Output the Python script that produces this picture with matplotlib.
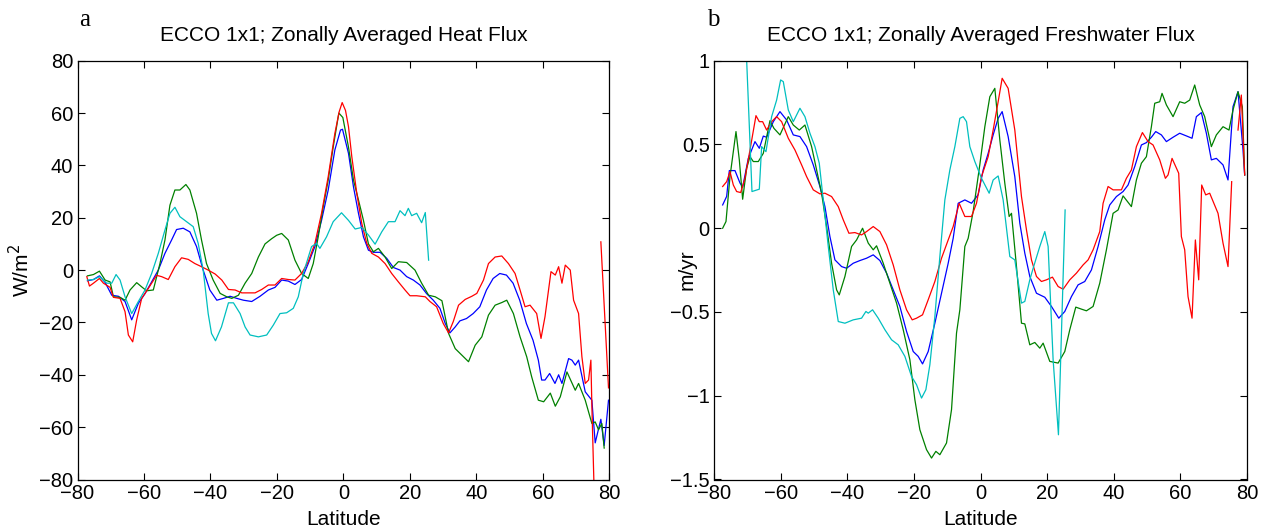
import numpy as np
import matplotlib
matplotlib.use("Agg")
import matplotlib.pyplot as plt
from matplotlib.ticker import FuncFormatter

plt.rcParams['font.family'] = ['Liberation Sans', 'DejaVu Sans']
plt.rcParams['font.size'] = 14.5

nan = np.nan

# ---------------- panel a: heat flux (W/m^2), pares (latitud, valor) ----------------
azul_a = [(-77, -4.1), (-75.2, -3.6), (-73.4, -2.2), (-71.7, -4.7), (-69.7, -9.6), (-67.7, -10),
          (-65.7, -12), (-63.7, -19), (-61.7, -12.7), (-59.7, -9), (-57.7, -4.5), (-55.7, 0),
          (-53.7, 6.4), (-51.7, 11.5), (-50.2, 15.5), (-48.2, 16), (-46.2, 14.6), (-44.2, 9),
          (-42.2, 0), (-40.2, -7.6), (-38.1, -11.5), (-36.1, -10.8), (-34.1, -10), (-32.1, -10.8),
          (-30.1, -11.5), (-27.6, -12), (-25.1, -10), (-22.6, -7.6), (-20.6, -6.6), (-18.6, -3.8),
          (-16.6, -4.2), (-14.6, -5.5), (-12.6, -3.6), (-10.6, 2.5), (-8.6, 9), (-6.6, 19),
          (-4.6, 30.6), (-2.6, 45.9), (-0.9, 53.5), (-0.3, 53.8), (1.5, 44.6), (3, 31.8),
          (4.5, 21.7), (6, 12.7), (7.5, 7.6), (9, 6.8), (11, 6.8), (13, 4.5), (15, 1), (17, 0),
          (19, -2.5), (21, -3.8), (23, -5.7), (25, -9), (27, -11.5), (29, -14.6), (30.6, -20.4),
          (32, -24), (33.6, -21.7), (35, -19.4), (37, -18.5), (39, -16.6), (41, -14), (43, -7.6),
          (45, -3.2), (47, -1.3), (49, -1.9), (51, -5), (53, -11.5), (55, -20.4), (57, -26.8),
          (58.6, -34.4), (59.6, -42), (60.6, -42), (62, -39.5), (63.6, -43.3), (64.7, -40),
          (65.7, -43.3), (67.7, -33.8), (68.7, -34.4), (69.7, -36.3), (70.7, -34.4), (72.7, -46.5),
          (74.7, -49.7), (75.7, -66), (77.4, -57), (78.4, -67), (79.7, -49.7)]

verde_a = [(-77, -2.2), (-75.2, -1.7), (-73.4, -0.4), (-71.7, -3.8), (-70.2, -4.5), (-69.2, -10.2),
           (-67.2, -10.4), (-65.7, -11.5), (-64.2, -7.6), (-62.2, -4.8), (-60.7, -6.4), (-59.2, -7.9),
           (-57.2, -7.6), (-55.2, 2.5), (-53.7, 11.5), (-52.2, 24.8), (-50.7, 30.6), (-49.2, 30.6),
           (-47.4, 32.7), (-46.2, 30.6), (-44.2, 21.7), (-42.7, 11.5), (-41.2, 2.5), (-39.2, -3.8),
           (-37.1, -8.9), (-35.1, -10.2), (-33.6, -10.8), (-31.6, -9.6), (-29.6, -5), (-27.6, -1.3),
           (-25.6, 5), (-23.6, 10), (-21.6, 12), (-20.1, 13.3), (-18.6, 14), (-16.6, 11.5),
           (-14.6, 3.8), (-12.6, -1.3), (-10.6, -3.2), (-9.1, 2.5), (-7.6, 12.7), (-6.1, 24.2),
           (-4.6, 34.4), (-3.1, 47), (-1.4, 60), (-0.2, 58.3), (1.5, 47), (3, 34.4), (4.5, 26.8),
           (6, 19), (7.5, 10), (9, 7), (10.5, 8.3), (12.5, 5), (14.5, 0.6), (16.5, 3.2), (19, 2.9),
           (21.5, 0), (23.5, -5), (25.6, -9.6), (27.6, -10.2), (29.6, -11.7), (31.6, -24.2),
           (33.6, -30), (35.6, -32.5), (37.6, -35), (39.6, -28.7), (41.6, -25.5), (43.6, -17.2),
           (45.6, -13.4), (47.6, -12.4), (49.1, -11.5), (51.1, -16.6), (53.1, -25.5), (55.1, -33.1),
           (56.6, -40.8), (58.6, -49.7), (60.2, -50.3), (62.2, -47), (63.7, -52), (65.2, -48.4),
           (67.2, -38.9), (69.7, -45.9), (70.7, -43.3), (72.7, -49.7), (74.7, -58.6), (75.7, -58),
           (76.7, -61), (77.7, -58.6), (78.4, -68)]

rojo_a = [(-77.2, -2.5), (-76.4, -6.1), (-75.2, -5), (-73.4, -3.2), (-72.2, -5), (-70.2, -6.6),
          (-69.2, -10.4), (-67.2, -10.8), (-65.7, -15.9), (-64.7, -24.8), (-63.4, -27.4), (-62.2, -19),
          (-60.7, -10.8), (-58.7, -7), (-56.2, -2), (-54.7, -2.5), (-52.7, -3.6), (-50.7, 1.3),
          (-48.7, 4.7), (-46.7, 4.1), (-44.7, 2.5), (-42.7, 1.3), (-40.7, 0), (-38.6, -1.5),
          (-36.6, -3.8), (-34.6, -7.4), (-32.6, -7.6), (-30.6, -8.7), (-28.6, -8.7), (-26.6, -8.7),
          (-24.6, -7.4), (-22.6, -5.7), (-20.6, -5.7), (-18.6, -3.2), (-16.6, -3.6), (-14.6, -3.8),
          (-12.6, -1.3), (-10.6, 3.2), (-8.6, 10.2), (-6.6, 21.7), (-4.6, 35.7), (-2.6, 52.2),
          (-1.3, 60.5), (-0.4, 64), (0.6, 61), (1.5, 54.8), (2.5, 43.3), (4, 29.3), (5.5, 17.8),
          (7, 10.2), (8.5, 6.4), (10.5, 5), (12.5, 2.5), (14.5, -1.3), (16.5, -4.5), (18.5, -7.6),
          (20, -9.8), (22, -9.8), (24.6, -10.2), (26, -12), (28, -14), (30, -20.4), (31.6, -24),
          (33, -19.7), (34.6, -13.4), (36.6, -11.2), (38.6, -10), (40.1, -8.9), (42.1, -3.8),
          (43.6, 2.5), (45.6, 5), (47.6, 5.4), (49.6, 2.5), (51.6, -1.3), (53.1, -7.6), (54.6, -14),
          (56.1, -13.4), (58.1, -16.6), (59.4, -26.1), (60.6, -17.8), (62.4, -0.6), (63.7, -1.9),
          (64.7, 1.3), (65.7, -5), (66.7, 1.9), (68.2, 0), (69.2, -11.5), (70.7, -16.6),
          (71.7, -33.1), (72.7, -43.3), (73.7, -42), (74.4, -34.4), (74.7, -52), (75.6, -95),
          (nan, nan), (77.4, 10.8), (79.7, -45)]

cian_a = [(-77, -3.8), (-75.2, -3.6), (-73.4, -2.5), (-71.2, -5), (-69.7, -5), (-68.4, -1.7),
          (-67.2, -3.8), (-65.7, -10.2), (-63.7, -16.6), (-61.7, -12), (-59.7, -7.6), (-57.7, -1.3),
          (-55.7, 6.4), (-53.7, 15.3), (-52.2, 21.7), (-50.7, 24), (-49.2, 20.4), (-47.2, 18.5),
          (-45.2, 16.6), (-43.7, 10.2), (-42.2, 0), (-40.7, -16.6), (-39.7, -24.2), (-38.5, -27),
          (-36.7, -21.7), (-34.6, -12.5), (-33.1, -12.5), (-31.1, -16.6), (-29.6, -21.7),
          (-28.1, -24.8), (-25.6, -25.5), (-23.1, -24.8), (-21.1, -21), (-19.1, -16.6),
          (-17.1, -16.3), (-15.1, -14.6), (-13.6, -10.2), (-12.1, -1.3), (-9.6, 9), (-8.1, 10.2),
          (-7.1, 8.3), (-5.1, 12.7), (-3.1, 18.5), (-0.6, 21.9), (1.5, 19), (3.5, 15.7), (5.5, 16.3),
          (7.5, 13.4), (9.5, 9.9), (11.5, 14.6), (13.5, 18.5), (15.5, 18.5), (17, 22.7), (18.5, 20.8),
          (19.5, 23.6), (20.5, 20.8), (22, 21.7), (23.5, 18.1), (24.6, 22), (25.6, 3.8)]

# ---------------- panel b: freshwater flux (m/yr) ----------------
azul_b = [(-77.4, 0.139), (-76.2, 0.19), (-75.4, 0.344), (-73.7, 0.344), (-72.2, 0.27), (-71.4, 0.245),
          (-69.7, 0.417), (-67.7, 0.517), (-66.4, 0.477), (-65.2, 0.55), (-64.2, 0.543), (-62.2, 0.636),
          (-60.2, 0.696), (-58.2, 0.646), (-56.2, 0.557), (-54.2, 0.547), (-52.2, 0.487), (-50.2, 0.378),
          (-48.2, 0.249), (-46.7, 0.129), (-45.2, -0.05), (-43.7, -0.189), (-41.7, -0.229),
          (-40.2, -0.239), (-38.2, -0.209), (-36.2, -0.193), (-34.2, -0.179), (-32.2, -0.159),
          (-30.2, -0.193), (-28.2, -0.268), (-26.2, -0.368), (-24.2, -0.467), (-22.2, -0.616),
          (-20.2, -0.736), (-18.7, -0.765), (-17.4, -0.81), (-15.7, -0.736), (-13.7, -0.567),
          (-11.7, -0.388), (-9.7, -0.209), (-8.2, -0.06), (-6.7, 0.149), (-4.7, 0.169), (-2.7, 0.149),
          (-0.7, 0.2), (0.8, 0.348), (2.3, 0.447), (3.8, 0.557), (5.3, 0.656), (6.5, 0.696),
          (8.3, 0.547), (10.3, 0.308), (11.8, 0.03), (13.3, -0.149), (14.8, -0.288), (16.8, -0.388),
          (19.3, -0.412), (21.3, -0.467), (23.5, -0.537), (25.3, -0.497), (27.3, -0.408),
          (29.3, -0.338), (31.3, -0.318), (33.3, -0.249), (35.3, -0.109), (37.3, 0.05), (38.8, 0.139),
          (40.8, 0.189), (42.8, 0.219), (44.3, 0.258), (46.3, 0.368), (48.3, 0.497), (49.8, 0.511),
          (51.3, 0.543), (52.6, 0.577), (54.3, 0.557), (55.8, 0.517), (57.8, 0.543), (59.8, 0.567),
          (61.8, 0.551), (63.5, 0.537), (64.8, 0.666), (66.3, 0.69), (67.8, 0.567), (69.3, 0.408),
          (70.8, 0.417), (72.8, 0.378), (74.3, 0.288), (75.8, 0.726), (77.3, 0.815), (78.8, 0.467),
          (79.3, 0.318)]

verde_b = [(-77.4, 0), (-76.4, 0.04), (-75.2, 0.308), (-73.4, 0.577), (-72.4, 0.408), (-71.4, 0.173),
           (-70.2, 0.358), (-69.2, 0.427), (-68.2, 0.398), (-66.7, 0.398), (-65.2, 0.447),
           (-63.2, 0.642), (-62, 0.596), (-60.2, 0.557), (-57.7, 0.666), (-56.2, 0.616), (-54.4, 0.586),
           (-52.7, 0.616), (-50.7, 0.487), (-49.2, 0.348), (-47.7, 0.209), (-46.2, 0.01),
           (-44.7, -0.209), (-43.2, -0.368), (-42.4, -0.398), (-40.7, -0.288), (-38.7, -0.109),
           (-37.2, -0.07), (-35.4, 0), (-33.7, -0.089), (-32.2, -0.129), (-31.2, -0.105),
           (-29.2, -0.209), (-27.2, -0.328), (-25.2, -0.447), (-23.2, -0.606), (-21.2, -0.785),
           (-19.7, -1.024), (-18.2, -1.203), (-16.2, -1.322), (-14.7, -1.372), (-13.4, -1.332),
           (-12.2, -1.352), (-10.2, -1.282), (-8.7, -1.083), (-7.2, -0.626), (-6.2, -0.487),
           (-4.7, -0.109), (-3.7, -0.06), (-2.2, 0.1), (-0.2, 0.38), (1.3, 0.606), (2.8, 0.785),
           (4.3, 0.835), (5.8, 0.527), (7.3, 0.268), (8.6, 0.07), (9.3, 0.089), (10.8, -0.229),
           (12.3, -0.567), (13.3, -0.571), (14.8, -0.696), (16.3, -0.682), (17.8, -0.716),
           (18.8, -0.686), (20.8, -0.795), (23.3, -0.805), (25.3, -0.736), (26.8, -0.606),
           (28.6, -0.471), (30.3, -0.483), (31.8, -0.493), (33.8, -0.467), (35.8, -0.328),
           (37.8, -0.129), (39.8, 0.089), (41.3, 0.109), (42.8, 0.193), (45.3, 0.129), (46.8, 0.288),
           (48.3, 0.388), (49.8, 0.427), (51.3, 0.606), (52.3, 0.746), (53.8, 0.755), (54.5, 0.805),
           (55.8, 0.736), (57.8, 0.666), (59.8, 0.755), (61.3, 0.746), (62.8, 0.765), (64.3, 0.855),
           (65.8, 0.736), (67.3, 0.666), (69.3, 0.487), (70.8, 0.557), (72.8, 0.606), (74.6, 0.586),
           (75.8, 0.706), (77.3, 0.815), (78.6, 0.726), (79.3, 0.318)]

rojo_b = [(-77.4, 0.249), (-76.2, 0.278), (-75.2, 0.338), (-74.2, 0.258), (-73.2, 0.219), (-72, 0.213),
          (-70.7, 0.298), (-69.2, 0.467), (-67.4, 0.672), (-66.4, 0.636), (-65.4, 0.636),
          (-64.2, 0.586), (-62.7, 0.636), (-61.2, 0.666), (-59.7, 0.636), (-57.7, 0.537),
          (-55.7, 0.467), (-53.7, 0.378), (-52.2, 0.308), (-50.2, 0.229), (-48.2, 0.205),
          (-46.7, 0.209), (-44.7, 0.189), (-42.7, 0.129), (-41.2, 0.05), (-39.5, -0.03),
          (-37.7, -0.026), (-35.7, -0.04), (-34.2, -0.02), (-32.2, 0.01), (-30.2, -0.02),
          (-28.2, -0.099), (-26.2, -0.219), (-24.2, -0.368), (-22.2, -0.487), (-20.5, -0.547),
          (-19.2, -0.537), (-17.4, -0.517), (-15.7, -0.427), (-13.7, -0.318), (-11.7, -0.179),
          (-9.7, -0.07), (-8.2, 0.01), (-6.4, 0.149), (-4.7, 0.07), (-2.7, 0.07), (-1.2, 0.149),
          (0.3, 0.308), (2.3, 0.427), (3.8, 0.586), (5.3, 0.755), (6.5, 0.895), (8.3, 0.835),
          (10.3, 0.586), (12.3, 0.189), (13.8, -0.01), (15.3, -0.189), (16.8, -0.288), (18.3, -0.318),
          (19.8, -0.308), (21.6, -0.292), (23.3, -0.348), (24.8, -0.364), (26.8, -0.308),
          (28.8, -0.268), (30.8, -0.219), (32.3, -0.189), (33.8, -0.129), (35.8, -0.02), (36.8, 0.149),
          (38.3, 0.249), (39.8, 0.229), (42.3, 0.229), (43.8, 0.298), (45.3, 0.348), (46.8, 0.487),
          (48.6, 0.571), (50.3, 0.517), (51.8, 0.497), (53.8, 0.408), (55.5, 0.298), (56.3, 0.318),
          (57.5, 0.417), (59.5, 0.328), (60.3, -0.05), (61.3, -0.129), (62.3, -0.408), (63.5, -0.537),
          (64.5, -0.07), (65.5, -0.308), (66.4, 0.258), (67.6, 0.199), (68.8, 0.209), (71.3, 0.089),
          (72.8, -0.089), (74.3, -0.229), (75.4, 0.278), (nan, nan), (77.3, 0.586), (78.3, 0.795),
          (79.3, 0.318)]

cian_b = [(-70.6, 1.2), (-68.6, 0.219), (-66.4, 0.233), (-65.7, 0.487), (-64.4, 0.457), (-62.7, 0.666),
          (-61.2, 0.765), (-60, 0.885), (-59.2, 0.875), (-57.7, 0.706), (-56.2, 0.636), (-54.2, 0.716),
          (-52.7, 0.666), (-51.2, 0.567), (-49.7, 0.487), (-48.4, 0.388), (-47.2, 0.169),
          (-45.7, -0.109), (-44.2, -0.368), (-42.7, -0.557), (-40.7, -0.567), (-38.2, -0.547),
          (-35.7, -0.537), (-34.4, -0.497), (-33.7, -0.507), (-32.4, -0.487), (-30.7, -0.537),
          (-28.7, -0.606), (-26.7, -0.666), (-24.7, -0.696), (-22.7, -0.765), (-20.7, -0.885),
          (-19.2, -0.934), (-17.7, -1.014), (-16.4, -0.964), (-15.2, -0.815), (-13.7, -0.527),
          (-12.2, -0.169), (-10.7, 0.169), (-9.2, 0.348), (-7.7, 0.487), (-6.2, 0.656), (-5.2, 0.666),
          (-4.2, 0.636), (-3.2, 0.487), (-1.7, 0.398), (0.3, 0.298), (2.6, 0.209), (3.8, 0.288),
          (5.3, 0.312), (6.8, 0.169), (8.8, -0.169), (10.3, -0.189), (12.3, -0.447), (13.3, -0.437),
          (14.8, -0.308), (15.8, -0.239), (17.8, -0.109), (19.3, -0.02), (20.3, -0.109),
          (21.8, -0.785), (23.4, -1.233), (24.3, -0.626), (25.4, 0.109)]

colores = {'azul': '#0000ff', 'verde': '#008000', 'rojo': '#ff0000', 'cian': '#00bfbf'}


def dibujar(ax, series):
    """Dibuja cada serie (lista de pares latitud, valor) con su color."""
    for nombre, datos in series:
        lat, val = np.array(datos, dtype=float).T
        ax.plot(lat, val, color=colores[nombre], lw=0.9)


def etiqueta(v, pos):
    # formato corto tipo %g con signo menos tipografico
    return f'{v:g}'.replace('-', '\u2212')


def config_ejes(ax, ylim, yticks, ylabel, titulo, ylab_x):
    ax.set_xlim(-80, 80)
    ax.set_ylim(*ylim)
    ax.set_xticks(range(-80, 81, 20))
    ax.set_yticks(yticks)
    ax.xaxis.set_major_formatter(FuncFormatter(etiqueta))
    ax.yaxis.set_major_formatter(FuncFormatter(etiqueta))
    ax.tick_params(direction='in', length=5, width=0.8, top=True, right=True,
                   labelsize=14.5)
    ax.tick_params(axis='x', pad=3)
    ax.tick_params(axis='y', pad=3)
    for s in ax.spines.values():
        s.set_linewidth(0.9)
    ax.set_xlabel('Latitude', fontsize=15, labelpad=5)
    ax.set_ylabel(ylabel, fontsize=15)
    # posicion de la etiqueta y (borde derecho del texto girado), en coords de ejes
    ax.yaxis.set_label_coords(ylab_x, 0.5)
    ax.set_title(titulo, fontsize=15, pad=14)


fig = plt.figure(figsize=(12.67, 5.3), dpi=100)
ax1 = fig.add_axes([77.5 / 1267, 50.5 / 530, 532 / 1267, 418.8 / 530])
ax2 = fig.add_axes([714 / 1267, 50.5 / 530, 533 / 1267, 418.8 / 530])

dibujar(ax1, [('azul', azul_a), ('verde', verde_a), ('rojo', rojo_a), ('cian', cian_a)])
dibujar(ax2, [('azul', azul_b), ('verde', verde_b), ('rojo', rojo_b), ('cian', cian_b)])

config_ejes(ax1, (-80, 80), range(-80, 81, 20), 'W/m$^2$',
            'ECCO 1x1; Zonally Averaged Heat Flux', (33 - 77.5) / 532)
config_ejes(ax2, (-1.5, 1), np.arange(-1.5, 1.01, 0.5), 'm/yr',
            'ECCO 1x1; Zonally Averaged Freshwater Flux', (697 - 714) / 533)

# letras de panel
fig.text(79 / 1267, 1 - 26 / 530, 'a', family='Liberation Serif', fontsize=18)
fig.text(707 / 1267, 1 - 26 / 530, 'b', family='Liberation Serif', fontsize=18)

fig.savefig('out.png', dpi=100)
